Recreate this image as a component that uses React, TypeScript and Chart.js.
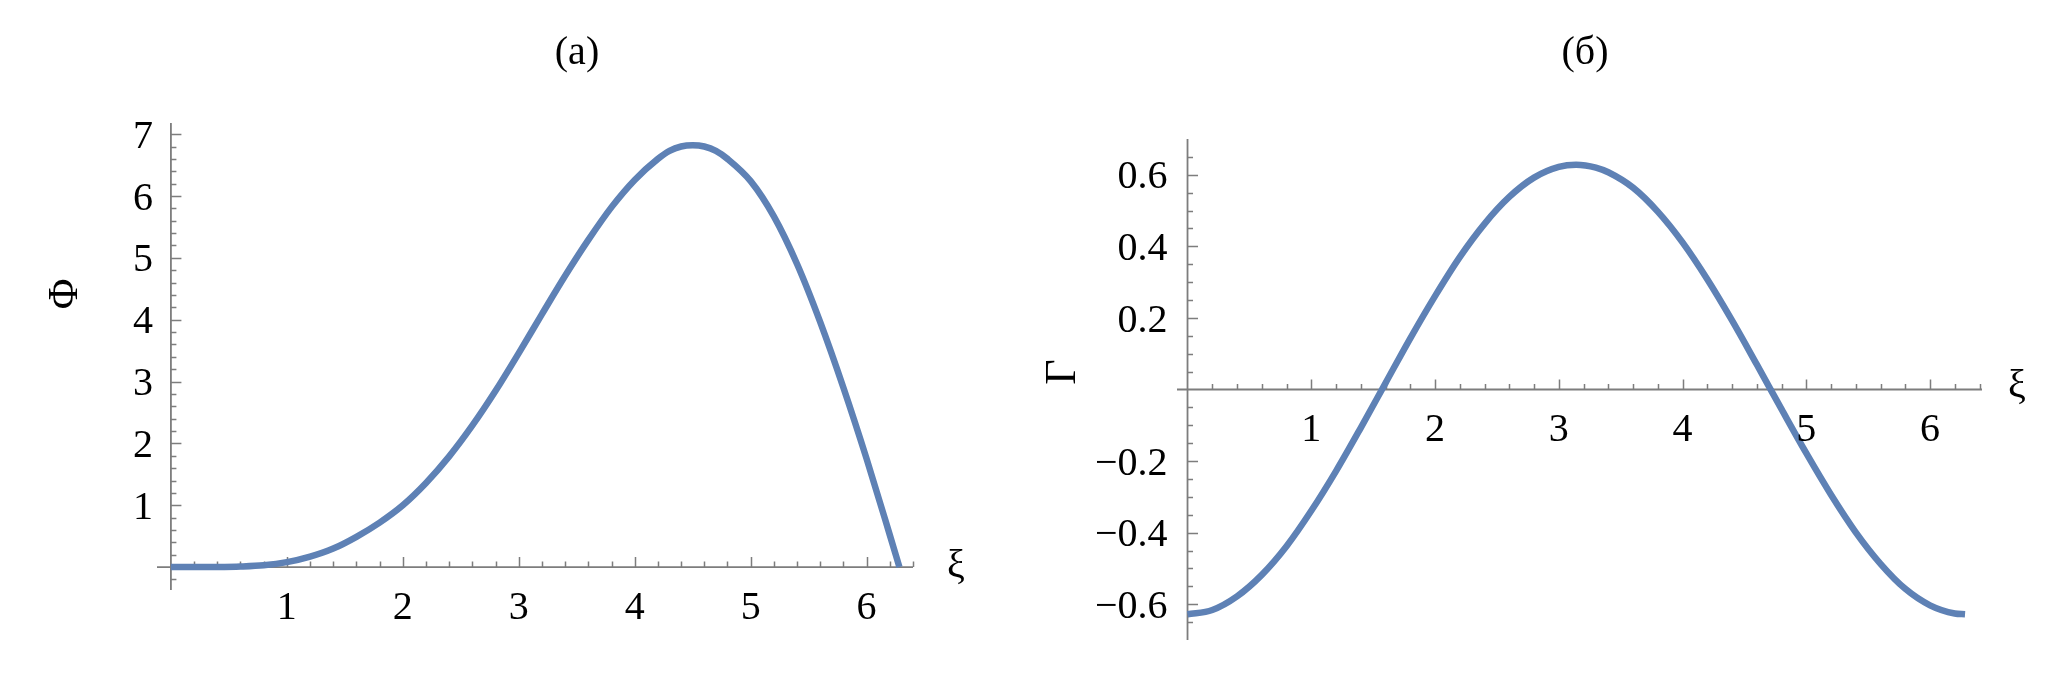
import React, { useEffect, useRef } from 'react';
import { Chart, registerables } from 'chart.js';

Chart.register(...registerables);

// ---------- data ----------
const xiPhi = [0, 0.2, 0.4, 0.6, 0.8, 1.0, 1.2, 1.4, 1.6, 1.8, 2.0, 2.2, 2.4, 2.6, 2.8, 3.0, 3.2, 3.4, 3.6, 3.8, 4.0, 4.2, 4.3, 4.4, 4.5, 4.6, 4.7, 4.8, 5.0, 5.2, 5.4, 5.6, 5.8, 6.0, 6.2, 6.283];
const phiValues = [0, 0, 0.002, 0.01, 0.03, 0.08, 0.17, 0.3, 0.49, 0.72, 1.0, 1.36, 1.79, 2.29, 2.85, 3.46, 4.09, 4.71, 5.29, 5.82, 6.26, 6.6, 6.73, 6.8, 6.82, 6.8, 6.73, 6.6, 6.24, 5.67, 4.9, 3.96, 2.9, 1.75, 0.52, 0];

const xiGamma = [0, 0.2, 0.4, 0.6, 0.8, 1.0, 1.2, 1.4, 1.6, 1.8, 2.0, 2.2, 2.4, 2.6, 2.8, 3.0, 3.14, 3.3, 3.4, 3.6, 3.8, 4.0, 4.2, 4.4, 4.6, 4.8, 5.0, 5.2, 5.4, 5.6, 5.8, 6.0, 6.2, 6.283];
const gammaValues = [-0.628, -0.616, -0.578, -0.518, -0.438, -0.339, -0.228, -0.107, 0.018, 0.143, 0.261, 0.37, 0.463, 0.538, 0.592, 0.622, 0.628, 0.62, 0.607, 0.564, 0.497, 0.411, 0.308, 0.193, 0.07, -0.055, -0.178, -0.294, -0.399, -0.487, -0.557, -0.603, -0.626, -0.628];

const xTickValuesA = [1, 2, 3, 4, 5, 6];
const xTickTextA = ['1', '2', '3', '4', '5', '6'];
const yTickValuesA = [1, 2, 3, 4, 5, 6, 7];
const yTickTextA = ['1', '2', '3', '4', '5', '6', '7'];

const xTickValuesB = [1, 2, 3, 4, 5, 6];
const xTickTextB = ['1', '2', '3', '4', '5', '6'];
const yTickValuesB = [-0.6, -0.4, -0.2, 0.2, 0.4, 0.6];
const yTickTextB = ['\u22120.6', '\u22120.4', '\u22120.2', '0.2', '0.4', '0.6'];

const titleA = '(a)';
const titleB = '(б)';
const yLabelA = 'Φ';
const yLabelB = 'Γ';
const xLabel = 'ξ';

// ---------- styling ----------
const LINE_COLOR = '#5E81B5';
const AXIS_COLOR = '#7d7d7d';
const FONT = "'Liberation Serif', 'Times New Roman', serif";

function range(from: number, to: number, step: number): number[] {
  const out: number[] = [];
  const n = Math.round((to - from) / step);
  for (let i = 0; i <= n; i++) out.push(+(from + i * step).toFixed(6));
  return out;
}

const mmaAxes = {
  id: 'mmaAxes',
  beforeDatasetsDraw(chart: any, _args: any, opts: any) {
    const { ctx, chartArea, scales } = chart;
    const xs = scales.x;
    const ys = scales.y;
    const x0 = xs.getPixelForValue(0);
    const y0 = ys.getPixelForValue(0);
    ctx.save();
    ctx.strokeStyle = AXIS_COLOR;
    ctx.lineWidth = 1.8;
    ctx.beginPath();
    ctx.moveTo(chartArea.left, y0);
    ctx.lineTo(chartArea.right, y0);
    ctx.moveTo(x0, chartArea.top);
    ctx.lineTo(x0, chartArea.bottom);
    ctx.stroke();
    ctx.lineWidth = 1.5;
    ctx.beginPath();
    for (const v of opts.xMinor as number[]) {
      if (Math.abs(v) < 1e-9) continue;
      const px = Math.round(xs.getPixelForValue(v)) + 0.5;
      const major = Math.abs(v / opts.xMajorStep - Math.round(v / opts.xMajorStep)) < 1e-6;
      const len = major ? 10 : 5.5;
      ctx.moveTo(px, y0);
      ctx.lineTo(px, y0 - len);
    }
    for (const v of opts.yMinor as number[]) {
      if (Math.abs(v) < 1e-9) continue;
      const py = Math.round(ys.getPixelForValue(v)) + 0.5;
      const major = Math.abs(v / opts.yMajorStep - Math.round(v / opts.yMajorStep)) < 1e-6;
      const len = major ? 10.5 : 5.5;
      ctx.moveTo(x0, py);
      ctx.lineTo(x0 + len, py);
    }
    ctx.stroke();
    ctx.restore();
  },
  afterDatasetsDraw(chart: any, _args: any, opts: any) {
    const { ctx, scales } = chart;
    const xs = scales.x;
    const ys = scales.y;
    const x0 = xs.getPixelForValue(0);
    const y0 = ys.getPixelForValue(0);
    const fs = 40;
    ctx.save();
    ctx.fillStyle = '#000';
    ctx.font = `${fs}px ${FONT}`;
    ctx.textBaseline = 'alphabetic';
    // x tick labels
    ctx.textAlign = 'center';
    (opts.xTickValues as number[]).forEach((v, i) => {
      ctx.fillText(opts.xTickText[i], xs.getPixelForValue(v), y0 + 38 + 0.34 * fs);
    });
    // y tick labels
    ctx.textAlign = 'right';
    (opts.yTickValues as number[]).forEach((v, i) => {
      ctx.fillText(opts.yTickText[i], x0 - opts.yLabelGap, ys.getPixelForValue(v) + 0.34 * fs);
    });
    // x axis name
    ctx.textAlign = 'center';
    ctx.textBaseline = 'middle';
    ctx.fillText(xLabel, opts.xNamePos[0], opts.xNamePos[1]);
    // y axis name (rotated)
    ctx.save();
    ctx.translate(opts.yNamePos[0], opts.yNamePos[1]);
    ctx.rotate(-Math.PI / 2);
    ctx.textAlign = 'center';
    ctx.textBaseline = 'alphabetic';
    ctx.font = `${opts.yNameSize}px ${FONT}`;
    ctx.fillText(opts.yName, 0, 0.33 * opts.yNameSize);
    ctx.restore();
    // title
    ctx.font = `40px ${FONT}`;
    ctx.textAlign = 'center';
    ctx.textBaseline = 'middle';
    ctx.fillText(opts.title, opts.titlePos[0], opts.titlePos[1]);
    ctx.restore();
  },
};

function makeConfig(p: any) {
  return {
    type: 'scatter',
    data: {
      datasets: [
        {
          data: p.xs.map((x: number, i: number) => ({ x, y: p.ys[i] })),
          showLine: true,
          borderColor: LINE_COLOR,
          borderWidth: 6.5,
          pointRadius: 0,
          pointHoverRadius: 0,
          cubicInterpolationMode: 'monotone',
          borderJoinStyle: 'round',
          fill: false,
          clip: false,
        },
      ],
    },
    options: {
      responsive: false,
      animation: false,
      devicePixelRatio: 1,
      events: [],
      layout: { padding: p.padding },
      scales: {
        x: { type: 'linear', min: p.xMin, max: p.xMax, display: false },
        y: { type: 'linear', min: p.yMin, max: p.yMax, display: false },
      },
      plugins: {
        legend: { display: false },
        tooltip: { enabled: false },
        title: { display: false },
        mmaAxes: p.axes,
      },
    },
    plugins: [mmaAxes],
  } as any;
}

function Panel({ left, width, cfg }: { left: number; width: number; cfg: any }) {
  const ref = useRef<HTMLCanvasElement | null>(null);
  useEffect(() => {
    if (!ref.current) return;
    const chart = new Chart(ref.current, makeConfig(cfg));
    return () => chart.destroy();
  }, []);
  return (
    <canvas
      ref={ref}
      width={width}
      height={677}
      style={{ position: 'absolute', left, top: 0, width, height: 677 }}
    />
  );
}

const cfgA = {
  xs: xiPhi,
  ys: phiValues,
  xMin: -0.12,
  xMax: 6.4,
  yMin: -0.37,
  yMax: 7.18,
  padding: { left: 157, right: 117, top: 123, bottom: 87 },
  axes: {
    xMinor: range(0.2, 6.4, 0.2),
    yMinor: range(-0.2, 7.0, 0.2),
    xMajorStep: 1,
    yMajorStep: 1,
    xTickValues: xTickValuesA,
    xTickText: xTickTextA,
    yTickValues: yTickValuesA,
    yTickText: yTickTextA,
    yLabelGap: 18,
    xNamePos: [956, 566],
    yNamePos: [63, 294],
    yName: yLabelA,
    yNameSize: 42,
    title: titleA,
    titlePos: [577, 53],
  },
};

const cfgB = {
  xs: xiGamma,
  ys: gammaValues,
  xMin: -0.085,
  xMax: 6.42,
  yMin: -0.7,
  yMax: 0.7,
  padding: { left: 147, right: 73, top: 139, bottom: 37 },
  axes: {
    xMinor: range(0.2, 6.4, 0.2),
    yMinor: range(-0.65, 0.65, 0.05),
    xMajorStep: 1,
    yMajorStep: 0.2,
    xTickValues: xTickValuesB,
    xTickText: xTickTextB,
    yTickValues: yTickValuesB,
    yTickText: yTickTextB,
    yLabelGap: 20,
    xNamePos: [987, 386],
    yNamePos: [30, 372],
    yName: yLabelB,
    yNameSize: 44,
    title: titleB,
    titlePos: [555, 53],
  },
};

export default function App() {
  return (
    <div style={{ position: 'absolute', left: 0, top: 0, width: 2055, height: 677, background: '#fff' }}>
      <Panel left={0} width={1030} cfg={cfgA} />
      <Panel left={1030} width={1025} cfg={cfgB} />
    </div>
  );
}
